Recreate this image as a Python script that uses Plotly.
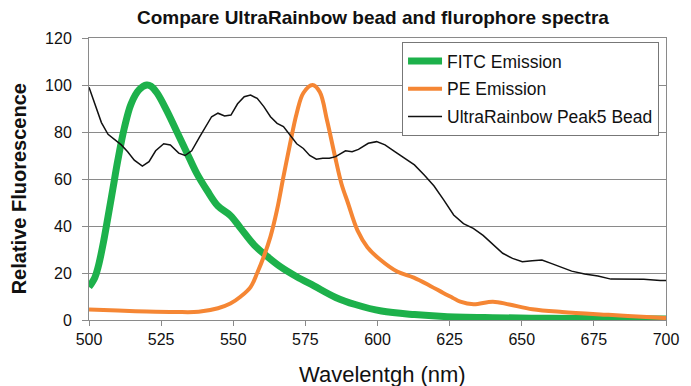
import plotly.graph_objects as go

# FITC emission
fitc_wl = [500, 502, 503.2, 505, 506.6, 508.3, 510, 512.3, 514.6, 517.4, 520, 521.5, 523.6, 527, 530.5,
           534, 537.3, 541, 544.7, 549, 552.6, 557.2, 561.8, 566.3, 572, 578, 585.5, 592.3, 601.4,
           612.8, 623, 640, 660, 680, 700]
fitc_val = [14, 18, 22.7, 33, 44, 56, 68, 82, 92, 98, 100, 99.5, 96.6, 89, 80,
            71, 62.5, 55, 48.5, 44.5, 39, 32, 27, 22.7, 18.4, 14.5, 9.6, 6.6, 3.8,
            2.3, 1.5, 1.0, 0.7, 0.5, 0.4]

# PE emission
pe_wl = [500, 510, 520, 530, 538, 544.7, 549, 552.6, 556, 558.3, 560.6, 562.9, 565.2, 567.4, 569.7,
         572, 574.3, 577.5, 580, 582.5, 585.2, 587.5, 589.7, 593.1, 596.5, 601.1, 606.8, 612.6,
         618.3, 622.8, 626, 628.7, 633.3, 640, 645.7, 653.7, 664, 680, 690, 700]
pe_val = [4.5, 4.0, 3.6, 3.4, 3.5, 5, 7, 10, 14, 20, 27, 35.5, 47, 61, 75,
          88, 96.6, 100, 97, 85, 70, 58, 50, 38, 31, 25.5, 20.6, 18,
          14.5, 11.5, 9.5, 7.8, 6.7, 7.8, 6.6, 4.6, 3.4, 2.2, 1.5, 0.8]

# UltraRainbow Peak5 bead
bead_wl = [500, 502, 504.3, 506.6, 508.9, 511.2, 513.4, 515.7, 518.5, 520.8, 523.1, 525.9, 528.2,
           531.1, 533.3, 535.6, 538.4, 540.2, 542.5, 544.7, 547, 549.2, 551.5, 553.8, 556, 558.3,
           560.6, 562.9, 565.2, 567.4, 569.7, 572, 574.3, 576.5, 578.8, 581, 583.3, 585.5, 588.9,
           591.2, 593.4, 596.8, 599.7, 602.6, 606, 609.4, 612.8, 616.2, 619.6, 623, 626.4, 629.8,
           633.2, 636.6, 640, 643.4, 646.8, 650.2, 653.6, 657, 660.4, 663.9, 667.3, 671.8, 676.4,
           680.9, 686.6, 692.3, 698, 700]
bead_val = [99, 92, 84, 79, 76.6, 74.5, 71.6, 68, 65.5, 67.4, 72, 75, 74.5,
            71, 70, 72, 78, 82, 86.5, 88, 86.8, 87.2, 92, 95, 95.7, 94.3,
            90.8, 86.5, 83.7, 82.3, 78.7, 75, 73, 70, 68.4, 68.8, 68.8, 69.5, 72,
            71.6, 72.6, 75.2, 75.9, 74.5, 71.6, 68.8, 66, 61.7, 57, 51, 44.7, 41,
            39, 36, 32, 28.4, 26.2, 24.8, 25.2, 25.5, 24, 22.4, 20.8, 19.6, 18.7,
            17.4, 17.4, 17.3, 16.8, 16.8]

x_ticks = [500, 525, 550, 575, 600, 625, 650, 675, 700]
y_ticks = [0, 20, 40, 60, 80, 100, 120]

FONT = "Liberation Sans, Arial, sans-serif"
GRID = "#8a8a8a"

fig = go.Figure()
fig.add_trace(go.Scatter(x=fitc_wl, y=fitc_val, mode="lines", name="FITC Emission",
                         line=dict(color="#1db14b", width=7, shape="spline"), legendgroup="a"))
fig.add_trace(go.Scatter(x=pe_wl, y=pe_val, mode="lines", name="PE Emission",
                         line=dict(color="#f58634", width=4, shape="spline"), legendgroup="b"))
fig.add_trace(go.Scatter(x=bead_wl, y=bead_val, mode="lines", name="UltraRainbow Peak5 Bead",
                         line=dict(color="#111111", width=1.5), legendgroup="c"))

fig.update_layout(
    width=691, height=386,
    margin=dict(l=89, r=14, t=38, b=66),
    paper_bgcolor="white", plot_bgcolor="white",
    font=dict(family=FONT, color="#111111"),
    showlegend=True,
    legend=dict(x=(408 - 89) / 588, y=(320 - 42) / 282, xanchor="left", yanchor="top",
                bgcolor="white", bordercolor="#777777", borderwidth=1,
                font=dict(size=17.5, family=FONT, color="#111111"),
                tracegroupgap=2, itemwidth=34),
    xaxis=dict(range=[500, 700], tickvals=x_ticks, ticktext=[str(v) for v in x_ticks],
               showgrid=False, zeroline=False, showline=True, linecolor=GRID, linewidth=1,
               mirror=True, ticks="outside", ticklen=5, tickcolor=GRID,
               tickfont=dict(size=16, family=FONT, color="#111111")),
    yaxis=dict(range=[0, 120], tickvals=y_ticks, ticktext=[str(v) for v in y_ticks],
               showgrid=True, gridcolor=GRID, gridwidth=1, zeroline=False,
               showline=True, linecolor=GRID, linewidth=1, mirror=True,
               ticks="outside", ticklen=6, tickcolor=GRID, ticklabelstandoff=7,
               tickfont=dict(size=16, family=FONT, color="#111111")),
    annotations=[
        dict(text="<b>Compare UltraRainbow bead and flurophore spectra</b>", xref="paper", yref="paper",
             x=(378 - 89) / 588, y=(320 - 18) / 282, xanchor="center", yanchor="middle",
             showarrow=False, font=dict(size=19, family=FONT, color="#111111")),
        dict(text="Wavelentgh (nm)", xref="paper", yref="paper",
             x=(388 - 89) / 588, y=(320 - 375) / 282, xanchor="center", yanchor="middle",
             showarrow=False, font=dict(size=22, family=FONT, color="#111111")),
        dict(text="<b>Relative Fluorescence</b>", xref="paper", yref="paper",
             x=(18 - 89) / 588, y=(320 - 189) / 282, xanchor="center", yanchor="middle",
             textangle=-90, showarrow=False, font=dict(size=20, family=FONT, color="#111111")),
    ],
)

fig.write_html("out.html")
